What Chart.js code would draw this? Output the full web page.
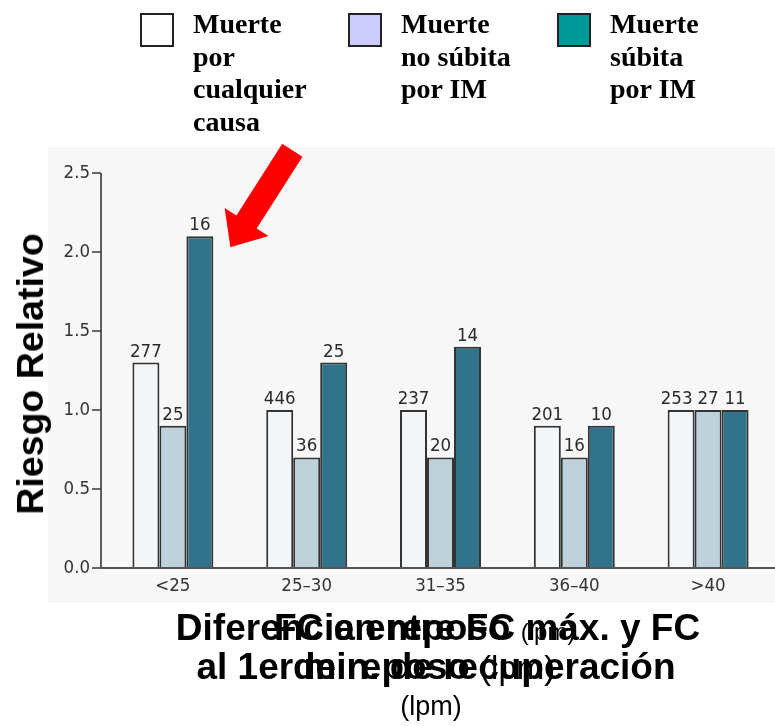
<!DOCTYPE html>
<html>
<head>
<meta charset="utf-8">
<script src="https://cdn.jsdelivr.net/npm/chart.js@4.4.1/dist/chart.umd.min.js"></script>
<style>
  html, body { margin: 0; padding: 0; background: #ffffff; }
  #wrap { position: relative; width: 775px; height: 726px; overflow: hidden; }
  #c { position: absolute; left: 0; top: 0; }
  .t { position: absolute; white-space: nowrap; color: #000; }
  .box { position: absolute; width: 30px; height: 30px; border: 2px solid #222; box-sizing: content-box; }
  .leg { font-family: 'Liberation Serif', 'DejaVu Serif', serif; font-weight: bold; font-size: 28px; line-height: 32.5px; }
  .xt { font-family: 'Liberation Sans', Arial, sans-serif; font-weight: bold; font-size: 37px; line-height: 40px; text-align: center; }
  .reg { font-weight: normal; }
</style>
</head>
<body>
<div id="wrap">
  <canvas id="c" width="775" height="726"></canvas>

  <!-- legend -->
  <div class="box" style="left:140px; top:13px; background:#ffffff;"></div>
  <div class="t leg" style="left:193px; top:8px;">Muerte<br>por<br>cualquier<br>causa</div>
  <div class="box" style="left:348px; top:13px; background:#ccccff;"></div>
  <div class="t leg" style="left:401px; top:8px;">Muerte<br>no súbita<br>por IM</div>
  <div class="box" style="left:557px; top:13px; background:#009999;"></div>
  <div class="t leg" style="left:610px; top:8px;">Muerte<br>súbita<br>por IM</div>

  <!-- y axis title -->
  <div class="t" style="left:30px; top:374px; transform:translate(-50%,-50%) rotate(-90deg); font-family:'Liberation Sans', Arial, sans-serif; font-weight:bold; font-size:37.5px; line-height:40px;">Riesgo Relativo</div>

  <!-- x axis title (two stacked labels) -->
  <div class="t xt" style="left:138px; width:600px; top:608px;">Diferencia entre FC máx. y FC</div>
  <div class="t xt" style="left:136px; width:600px; top:647px;">al 1er min. de recuperación</div>
  <div class="t xt reg" style="left:131px; width:600px; top:688px; font-size:27px; line-height:36px;">(lpm)</div>
  <div class="t xt" style="left:274px; top:608px;">FC en reposo <span class="reg" style="font-size:24px;">(lpm)</span></div>
  <div class="t xt" style="left:293px; top:647px;">de reposo <span class="reg" style="font-size:33px;">(lpm)</span></div>
</div>

<script>
// Relative risk by heart-rate decrease at 1 min of recovery
const categories = ['<25', '25–30', '31–35', '36–40', '>40'];
const seriesNames = ['Muerte por cualquier causa', 'Muerte no súbita por IM', 'Muerte súbita por IM'];

const riskAllCause  = [1.3, 1.0, 1.0, 0.9, 1.0];
const riskNonSudden = [0.9, 0.7, 0.7, 0.7, 1.0];
const riskSudden    = [2.1, 1.3, 1.4, 0.9, 1.0];

// number of deaths printed above each bar
const deathsAllCause  = [277, 446, 237, 201, 253];
const deathsNonSudden = [25, 36, 20, 16, 27];
const deathsSudden    = [16, 25, 14, 10, 11];

const yTickValues = [0, 0.5, 1.0, 1.5, 2.0, 2.5];

const barFills = ['#f2f6f9', '#bdd2db', '#31738b'];
const tickFont = "'DejaVu Sans Condensed', 'Liberation Sans Narrow', sans-serif";

// light panel behind the plot
const panelPlugin = {
  id: 'panel',
  beforeDraw(chart) {
    const { ctx, chartArea } = chart;
    ctx.save();
    ctx.fillStyle = '#f7f7f7';
    ctx.fillRect(chartArea.left - 58, chartArea.top - 26, chartArea.right - chartArea.left + 58, chartArea.bottom - chartArea.top + 61);
    ctx.restore();
  }
};

// axis lines and tick marks, axis sits a little left of the first group
const axesPlugin = {
  id: 'axes',
  afterDatasetsDraw(chart) {
    const { ctx, chartArea, scales } = chart;
    const y = scales.y;
    const x0 = chartArea.left - 5;
    ctx.save();
    ctx.strokeStyle = '#3a3a3a';
    ctx.lineWidth = 1.6;
    ctx.beginPath();
    ctx.moveTo(x0, y.getPixelForValue(2.5));
    ctx.lineTo(x0, chartArea.bottom);
    yTickValues.forEach(v => {
      const py = y.getPixelForValue(v);
      ctx.moveTo(x0 - 9, py);
      ctx.lineTo(x0, py);
    });
    ctx.stroke();
    ctx.lineWidth = 2.2;
    ctx.strokeStyle = '#555';
    ctx.beginPath();
    ctx.moveTo(x0, chartArea.bottom);
    ctx.lineTo(chartArea.right, chartArea.bottom);
    ctx.stroke();
    ctx.restore();
  }
};

// death counts above the bars; labels at the same height are nudged left so they never touch
const countsPlugin = {
  id: 'counts',
  afterDatasetsDraw(chart) {
    const { ctx } = chart;
    const n = chart.data.labels.length;
    const nds = chart.data.datasets.length;
    ctx.save();
    ctx.font = '18.5px ' + tickFont;
    ctx.fillStyle = '#2a2a2a';
    ctx.textAlign = 'center';
    ctx.textBaseline = 'alphabetic';
    for (let i = 0; i < n; i++) {
      const items = [];
      for (let di = 0; di < nds; di++) {
        const el = chart.getDatasetMeta(di).data[i];
        const txt = String(chart.data.datasets[di].counts[i]);
        items.push({ txt, x: el.x, y: el.y - 6, w: ctx.measureText(txt).width });
      }
      for (let k = items.length - 2; k >= 0; k--) {
        const a = items[k], b = items[k + 1];
        if (Math.abs(a.y - b.y) < 14) {
          const overlap = (a.x + a.w / 2 + 5) - (b.x - b.w / 2);
          if (overlap > 0) a.x -= overlap;
        }
      }
      items.forEach(it => ctx.fillText(it.txt, it.x, it.y));
    }
    ctx.restore();
  }
};

// red arrow pointing at the tallest sudden-death bar
const arrowPlugin = {
  id: 'arrow',
  afterDraw(chart) {
    const el = chart.getDatasetMeta(2).data[0];
    const ctx = chart.ctx;
    const tip = { x: el.x + el.width / 2 + 17, y: el.y + 11 };
    const ux = -0.539, uy = 0.843;      // direction toward tip
    const nx = 0.843, ny = 0.539;       // perpendicular
    const len = 115, headLen = 30, headHalf = 26, shaftHalf = 12;
    const bx = tip.x - ux * headLen, by = tip.y - uy * headLen;
    const tx = tip.x - ux * len, ty = tip.y - uy * len;
    ctx.save();
    ctx.fillStyle = '#ff0000';
    ctx.beginPath();
    ctx.moveTo(tip.x, tip.y);
    ctx.lineTo(bx + nx * headHalf, by + ny * headHalf);
    ctx.lineTo(bx + nx * shaftHalf, by + ny * shaftHalf);
    ctx.lineTo(tx + nx * shaftHalf, ty + ny * shaftHalf);
    ctx.lineTo(tx - nx * shaftHalf, ty - ny * shaftHalf);
    ctx.lineTo(bx - nx * shaftHalf, by - ny * shaftHalf);
    ctx.lineTo(bx - nx * headHalf, by - ny * headHalf);
    ctx.closePath();
    ctx.fill();
    ctx.restore();
  }
};

const values = [riskAllCause, riskNonSudden, riskSudden];
const counts = [deathsAllCause, deathsNonSudden, deathsSudden];

new Chart(document.getElementById('c'), {
  type: 'bar',
  data: {
    labels: categories,
    datasets: seriesNames.map((name, i) => ({
      label: name,
      data: values[i],
      counts: counts[i],
      backgroundColor: barFills[i],
      borderColor: '#333',
      borderWidth: 2,
      barPercentage: 1.0,
      categoryPercentage: 0.605
    }))
  },
  options: {
    responsive: false,
    animation: false,
    devicePixelRatio: 1,
    layout: { padding: { top: 173, right: 0, bottom: 118, left: 0 } },
    plugins: { legend: { display: false }, tooltip: { enabled: false }, title: { display: false } },
    scales: {
      x: {
        grid: { display: false, drawTicks: false },
        border: { display: false },
        ticks: { color: '#333', font: { family: tickFont, size: 18.5 }, padding: 7, maxRotation: 0 },
        afterFit(scale) { scale.height = 40; }
      },
      y: {
        min: 0, max: 2.5,
        grid: { display: false, drawTicks: false },
        border: { display: false },
        ticks: {
          stepSize: 0.5,
          color: '#333',
          font: { family: tickFont, size: 18.5 },
          padding: 16,
          callback: v => Number(v).toFixed(1)
        },
        afterFit(scale) { scale.width = 106; }
      }
    }
  },
  plugins: [panelPlugin, axesPlugin, countsPlugin, arrowPlugin]
});
</script>
</body>
</html>
